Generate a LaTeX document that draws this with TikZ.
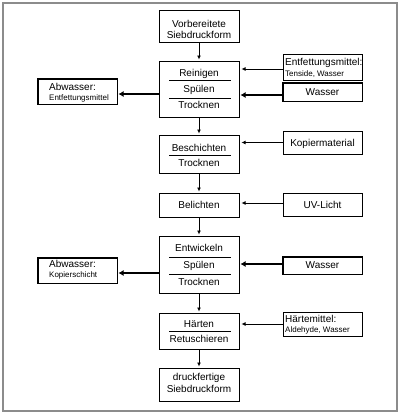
\documentclass[tikz,border=0pt]{standalone}
\usepackage{fontspec}
\setmainfont{Liberation Sans}
\usetikzlibrary{arrows.meta}
\begin{document}
\begin{tikzpicture}[x=1pt,y=-1pt,
  box/.style={draw=black,line width=1pt,inner sep=0pt,minimum width=#1},
  box/.default=80pt,
  txt/.style={anchor=base,inner sep=0pt,font=\fontsize{10}{12}\selectfont},
  stxt/.style={anchor=base west,inner sep=0pt,font=\fontsize{8}{10}\selectfont},
  ltxt/.style={anchor=base west,inner sep=0pt,font=\fontsize{10}{12}\selectfont},
  sep/.style={line width=1pt},
  thin/.style={line width=1pt,-{Latex[length=4pt,width=4pt]},shorten >=2pt},
  thick/.style={line width=2.2pt,-{Latex[length=5pt,width=6pt]},shorten >=1pt},
  heavy/.style={line width=2pt}]
\useasboundingbox (0,0) rectangle (401,413);
\draw[draw=gray!90,line width=2pt] (3,3) rectangle (397,411);
% main column
\node[box,minimum height=32pt] (b1) at (199,26) {};
\node[box,minimum height=56pt] (b2) at (199,89) {};
\node[box,minimum height=38pt] (b3) at (199,154) {};
\node[box,minimum height=24pt] (b4) at (199,205) {};
\node[box,minimum height=57pt] (b5) at (199,264.5) {};
\node[box,minimum height=36pt] (b6) at (199,331) {};
\node[box,minimum height=33pt] (b7) at (199,384.5) {};
% right boxes
\node[box=79pt,minimum height=26pt] (r1) at (322.5,67) {};
\node[box=79pt,minimum height=18pt] (r2) at (322.5,92) {};
\node[box=79pt,minimum height=23pt] (r3) at (322.5,142.5) {};
\node[box=79pt,minimum height=23pt] (r4) at (322.5,204.5) {};
\node[box=79pt,minimum height=17pt] (r5) at (322.5,265.5) {};
\node[box=79pt,minimum height=24pt] (r6) at (322.5,324) {};
% left boxes
\node[box=79pt,minimum height=25pt] (l1) at (77.5,91.5) {};
\node[box=79pt,minimum height=25pt] (l2) at (77.5,270.5) {};
% heavier left/top edges
\draw[heavy] (r2.south west) -- (r2.north west) -- (r2.north east);
\draw[heavy] (r5.south west) -- (r5.north west) -- (r5.north east);
\draw[heavy] (l1.south west) -- (l1.north west) -- (l1.north east);
\draw[heavy] (l2.south west) -- (l2.north west) -- (l2.north east);
% separators
\draw[sep] (169,80) coordinate (s1a) -- (231,80) coordinate (s1b);
\draw[sep] (169,98) coordinate (s2a) -- (231,98) coordinate (s2b);
\draw[sep] (169,155) coordinate (s3a) -- (231,155) coordinate (s3b);
\draw[sep] (169,257) coordinate (s4a) -- (231,257) coordinate (s4b);
\draw[sep] (169,274) coordinate (s5a) -- (231,274) coordinate (s5b);
\draw[sep] (169,331) coordinate (s6a) -- (231,331) coordinate (s6b);
% texts main column
\node[txt] (t1a) at (199,27.5) {Vorbereitete};
\node[txt] (t1b) at (199,38) {Siebdruckform};
\node[txt] (t2a) at (199,76.5) {Reinigen};
\node[txt] (t2b) at (199,92.5) {Spülen};
\node[txt] (t2c) at (199,108.5) {Trocknen};
\node[txt] (t3a) at (199,151.5) {Beschichten};
\node[txt] (t3b) at (199,166.5) {Trocknen};
\node[txt] (t4a) at (199,208.5) {Belichten};
\node[txt] (t5a) at (199,251.5) {Entwickeln};
\node[txt] (t5b) at (199,268.5) {Spülen};
\node[txt] (t5c) at (199,285.5) {Trocknen};
\node[txt] (t6a) at (199,327.5) {Härten};
\node[txt] (t6b) at (199,342.5) {Retuschieren};
\node[txt] (t7a) at (199,380.5) {druckfertige};
\node[txt] (t7b) at (199,392.5) {Siebdruckform};
% texts right
\node[ltxt] (tr1a) at (285,65.5) {Entfettungsmittel:};
\node[stxt] (tr1b) at (285,76) {Tenside, Wasser};
\node[txt] (tr2) at (322.5,95.5) {Wasser};
\node[txt] (tr3) at (322.5,146) {Kopiermaterial};
\node[txt] (tr4) at (322.5,208.5) {UV-Licht};
\node[txt] (tr5) at (322.5,268.5) {Wasser};
\node[ltxt] (tr6a) at (285,322.5) {Härtemittel:};
\node[stxt] (tr6b) at (285,332) {Aldehyde, Wasser};
% texts left
\node[ltxt] (tl1a) at (49,90.5) {Abwasser:};
\node[stxt] (tl1b) at (49,100) {Entfettungsmittel};
\node[ltxt] (tl2a) at (49,267.5) {Abwasser:};
\node[stxt] (tl2b) at (49,277) {Kopierschicht};
% vertical arrows
\draw[thin,shorten >=1pt] (b1) -- (b2);
\draw[thin,shorten >=1pt] (b2) -- (b3);
\draw[thin,shorten >=1pt] (b3) -- (b4);
\draw[thin,shorten >=1pt] (b4) -- (b5);
\draw[thin,shorten >=1pt] (b5) -- (b6);
\draw[thin,shorten >=1pt] (b6) -- (b7);
% horizontal arrows from right
\draw[thin] ([yshift=-2pt]r1.west) -- ([yshift=-2pt]r1.west -| b2.east);
\draw[thick] ([yshift=-3pt]r2.west) -- ([yshift=-3pt]r2.west -| b2.east);
\draw[thin] (r3.west) -- (r3.west -| b3.east);
\draw[thin] ([yshift=1.5pt]r4.west) -- ([yshift=1.5pt]r4.west -| b4.east);
\draw[thick] ([yshift=1.5pt]r5.west) -- ([yshift=1.5pt]r5.west -| b5.east);
\draw[thin] (r6.west) -- (r6.west -| b6.east);
% thick arrows to left
\draw[thick] ([yshift=-2.5pt]l1.east -| b2.west) -- ([yshift=-2.5pt]l1.east);
\draw[thick] ([yshift=-2.5pt]l2.east -| b5.west) -- ([yshift=-2.5pt]l2.east);
\end{tikzpicture}
\end{document}
